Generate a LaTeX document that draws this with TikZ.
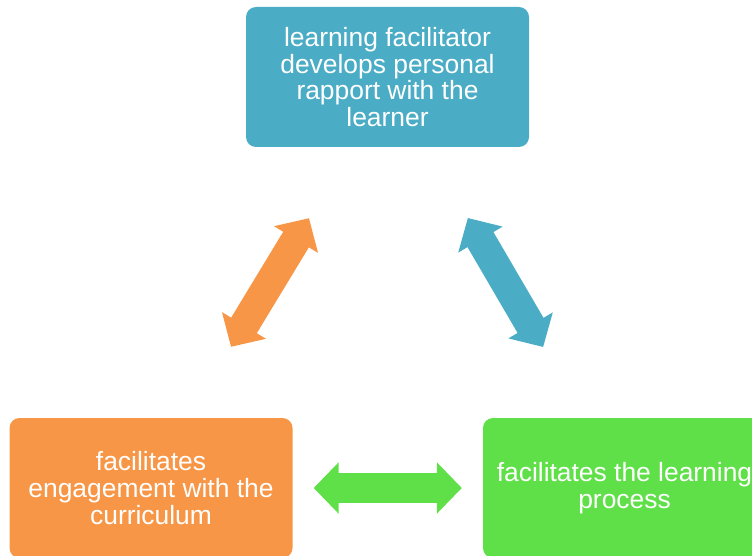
\documentclass[tikz,border=0pt]{standalone}
\usepackage{fontspec}
\setmainfont{Liberation Sans}
\usetikzlibrary{
    arrows.meta,
    positioning
}
\definecolor{aqua}{RGB}{75,172,198}
\definecolor{peach}{RGB}{247,150,70}
\definecolor{lime}{RGB}{95,224,72}
\tikzset{
    >=latex,
    % For block diagrams
    phase/.style={
        draw=none,
        text=white,
        rounded corners=10pt,
        align=center,
        inner sep=0pt,
        minimum width=283pt,
        minimum height=140pt,
        font=\fontsize{26.4}{26.8}\selectfont
    },
    % Fat double arrows between the blocks
    link/.style={
        line width=30pt,
        >={Triangle[width=50pt,length=25pt]},
        <->
    }
}

\begin{document}
\begin{tikzpicture}[x=1pt,y=-1pt]
    \useasboundingbox (0,0) rectangle (752,556);

    \node[phase, fill=aqua] (rapport) at (387.5,77) {learning facilitator\\develops personal\\rapport with the\\learner};
    \node[phase, fill=peach] (engage) at (151,488) {facilitates\\engagement with the\\curriculum};
    \node[phase, fill=lime] (process) at (624.5,488) {facilitates the learning\\process};

    \draw[link, peach, shorten <=83pt, shorten >=83pt] ([xshift=37pt]engage.north) -- ([xshift=-35.5pt]rapport.south);
    \draw[link, aqua, shorten <=82pt, shorten >=82pt] ([xshift=39pt]rapport.south) -- ([xshift=-40pt]process.north);
    \draw[link, lime, shorten <=21pt, shorten >=21pt] (engage.east) -- (process.west);

\end{tikzpicture}
\end{document}
